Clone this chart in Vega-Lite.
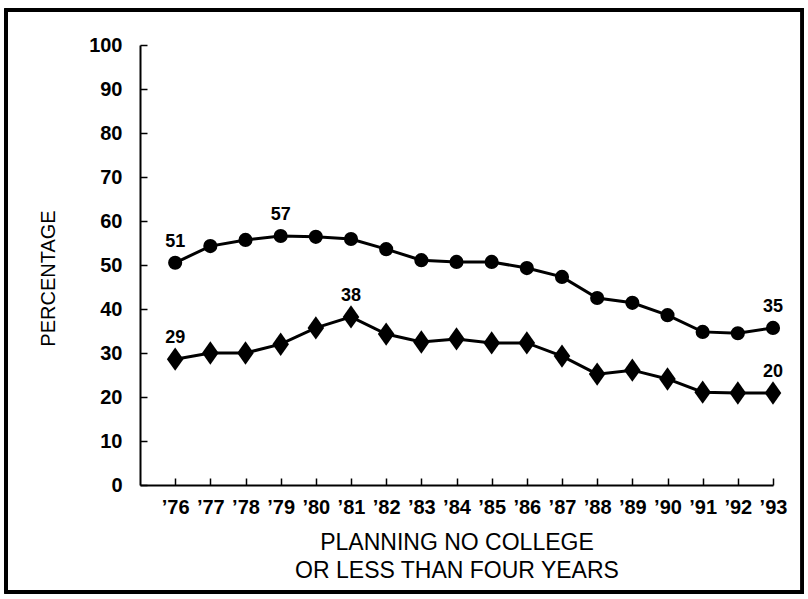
{
  "$schema": "https://vega.github.io/schema/vega-lite/v6.json",
  "width": 633,
  "height": 440,
  "autosize": {"type": "none"},
  "padding": {"left": 140, "top": 45, "right": 35, "bottom": 114},
  "background": "white",
  "config": {
    "view": {"stroke": null},
    "font": "Liberation Sans",
    "axis": {
      "grid": false,
      "domainColor": "black",
      "domainWidth": 2,
      "tickColor": "black",
      "tickWidth": 1.5,
      "tickSize": -7,
      "labelColor": "black",
      "labelFont": "Liberation Sans",
      "labelFontWeight": "bold",
      "labelFontSize": 20,
      "titleColor": "black",
      "titleFont": "Liberation Sans",
      "titleFontWeight": "normal"
    }
  },
  "data": {
    "values": [
      {"year": 76, "series": "circle", "value": 50.5, "label": "51"},
      {"year": 77, "series": "circle", "value": 54.3, "label": ""},
      {"year": 78, "series": "circle", "value": 55.7, "label": ""},
      {"year": 79, "series": "circle", "value": 56.6, "label": "57"},
      {"year": 80, "series": "circle", "value": 56.4, "label": ""},
      {"year": 81, "series": "circle", "value": 55.9, "label": ""},
      {"year": 82, "series": "circle", "value": 53.6, "label": ""},
      {"year": 83, "series": "circle", "value": 51.1, "label": ""},
      {"year": 84, "series": "circle", "value": 50.7, "label": ""},
      {"year": 85, "series": "circle", "value": 50.7, "label": ""},
      {"year": 86, "series": "circle", "value": 49.3, "label": ""},
      {"year": 87, "series": "circle", "value": 47.3, "label": ""},
      {"year": 88, "series": "circle", "value": 42.5, "label": ""},
      {"year": 89, "series": "circle", "value": 41.4, "label": ""},
      {"year": 90, "series": "circle", "value": 38.6, "label": ""},
      {"year": 91, "series": "circle", "value": 34.8, "label": ""},
      {"year": 92, "series": "circle", "value": 34.5, "label": ""},
      {"year": 93, "series": "circle", "value": 35.7, "label": "35"},
      {"year": 76, "series": "diamond", "value": 28.6, "label": "29"},
      {"year": 77, "series": "diamond", "value": 30.0, "label": ""},
      {"year": 78, "series": "diamond", "value": 30.0, "label": ""},
      {"year": 79, "series": "diamond", "value": 32.0, "label": ""},
      {"year": 80, "series": "diamond", "value": 35.7, "label": ""},
      {"year": 81, "series": "diamond", "value": 38.2, "label": "38"},
      {"year": 82, "series": "diamond", "value": 34.3, "label": ""},
      {"year": 83, "series": "diamond", "value": 32.5, "label": ""},
      {"year": 84, "series": "diamond", "value": 33.2, "label": ""},
      {"year": 85, "series": "diamond", "value": 32.3, "label": ""},
      {"year": 86, "series": "diamond", "value": 32.3, "label": ""},
      {"year": 87, "series": "diamond", "value": 29.3, "label": ""},
      {"year": 88, "series": "diamond", "value": 25.2, "label": ""},
      {"year": 89, "series": "diamond", "value": 26.1, "label": ""},
      {"year": 90, "series": "diamond", "value": 24.1, "label": ""},
      {"year": 91, "series": "diamond", "value": 21.1, "label": ""},
      {"year": 92, "series": "diamond", "value": 20.9, "label": ""},
      {"year": 93, "series": "diamond", "value": 20.9, "label": "20"}
    ]
  },
  "encoding": {
    "x": {
      "field": "year",
      "type": "quantitative",
      "scale": {"domain": [75, 93], "nice": false, "zero": false},
      "axis": {
        "values": [76, 77, 78, 79, 80, 81, 82, 83, 84, 85, 86, 87, 88, 89, 90, 91, 92, 93],
        "labelExpr": "'\u2019' + datum.value",
        "labelPadding": 19,
        "labelFlush": false,
        "labelOverlap": false,
        "title": ["PLANNING NO COLLEGE", "OR LESS THAN FOUR YEARS"],
        "titleFontSize": 23,
        "titlePadding": 14,
        "titleLineHeight": 28
      }
    },
    "y": {
      "field": "value",
      "type": "quantitative",
      "scale": {"domain": [0, 100], "nice": false},
      "axis": {
        "values": [0, 10, 20, 30, 40, 50, 60, 70, 80, 90, 100],
        "labelPadding": 25,
        "labelFlush": false,
        "title": "PERCENTAGE",
        "titleFontSize": 20,
        "titleY": 233,
        "titlePadding": 30
      }
    }
  },
  "layer": [
    {
      "mark": {"type": "rect", "fill": null, "stroke": "black", "strokeWidth": 2.5, "clip": false},
      "encoding": {
        "x": {"datum": 71.19, "type": "quantitative"},
        "x2": {"datum": 93.83},
        "y": {"datum": 107.95, "type": "quantitative"},
        "y2": {"datum": -24.32}
      }
    },
    {
      "mark": {"type": "line", "color": "black", "strokeWidth": 3},
      "encoding": {"detail": {"field": "series"}}
    },
    {
      "mark": {"type": "point", "filled": true, "color": "black", "opacity": 1},
      "encoding": {
        "shape": {
          "field": "series",
          "type": "nominal",
          "scale": {"domain": ["circle", "diamond"], "range": ["circle", "M0,-1.2L0.85,0L0,1.2L-0.85,0Z"]},
          "legend": null
        },
        "size": {
          "field": "series",
          "type": "nominal",
          "scale": {"domain": ["circle", "diamond"], "range": [200, 380]},
          "legend": null
        }
      }
    },
    {
      "mark": {"type": "text", "dy": -21, "fontSize": 18, "fontWeight": "bold", "font": "Liberation Sans", "color": "black"},
      "encoding": {"text": {"field": "label"}}
    }
  ]
}
